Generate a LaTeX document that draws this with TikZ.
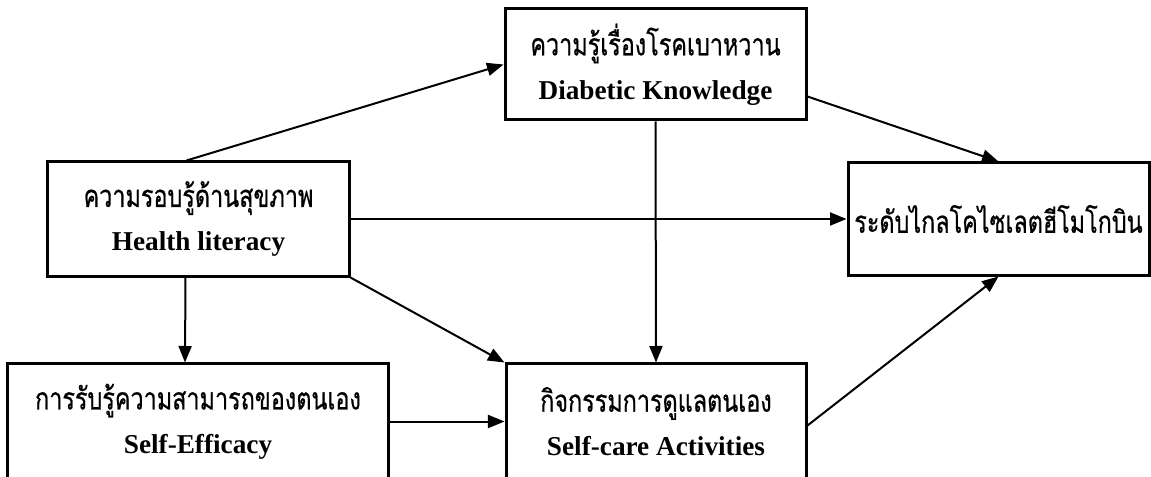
\documentclass[tikz,border=0pt]{standalone}
\usepackage{fontspec}
\setmainfont{Liberation Serif}
\newfontfamily\thaifont[Script=Thai,FakeStretch=0.76,FakeBold=0.6]{Loma}
\usetikzlibrary{arrows.meta,calc}
\tikzset{
  varbox/.style={draw, line width=0.6mm, align=center, inner sep=0pt,
    font=\fontsize{15.5}{25}\selectfont},
  link/.style={line width=0.4mm, -{Triangle[length=3.3mm,width=2.6mm]}}
}
\newcommand{\thaitext}[1]{{\thaifont\fontsize{17.5}{25}\selectfont #1}}
\begin{document}
\begin{tikzpicture}[x=0.2mm,y=-0.2mm]
  \clip (0,0) rectangle (1151,477);
  % variables
  \node[varbox, minimum width=60.2mm, minimum height=22.8mm] (hl) at (198.5,219)
    {\thaitext{ความรอบรู้ด้านสุขภาพ}\\ \textbf{Health literacy}};
  \node[varbox, minimum width=60.2mm, minimum height=22.2mm] (kn) at (655.5,64.5)
    {\thaitext{ความรู้เรื่องโรคเบาหวาน}\\ \textbf{Diabetic Knowledge}};
  \node[varbox, minimum width=60.2mm, minimum height=22.4mm] (gl) at (998.5,219)
    {\thaitext{ระดับไกลโคไซเลตฮีโมโกบิน}};
  \node[varbox, minimum width=76mm, minimum height=23mm] (se) at (198,421.5)
    {\thaitext{การรับรู้ความสามารถของตนเอง}\\ \textbf{Self-Efficacy}};
  \node[varbox, minimum width=60mm, minimum height=23mm] (sc) at (656,421.5)
    {\thaitext{กิจกรรมการดูแลตนเอง}\\ \textbf{Self-care Activities}};
  % paths
  \draw[link] ($(hl.north)+(-12,0)$) -- (kn.west);
  \draw[link] ($(kn.south east)+(0,-25)$) -- (gl.north);
  \draw[link] (hl.east) -- (gl.west);
  \draw[link] ($(hl.south)+(-13,0)$) -- ($(se.north)+(-13,0)$);
  \draw[link] (hl.south east) -- (sc.north west);
  \draw[link] (kn.south) -- (sc.north);
  \draw[link] (se.east) -- (se.east -| sc.west);
  \draw[link] ($(sc.north east)+(0,63)$) -- (gl.south);
\end{tikzpicture}
\end{document}
